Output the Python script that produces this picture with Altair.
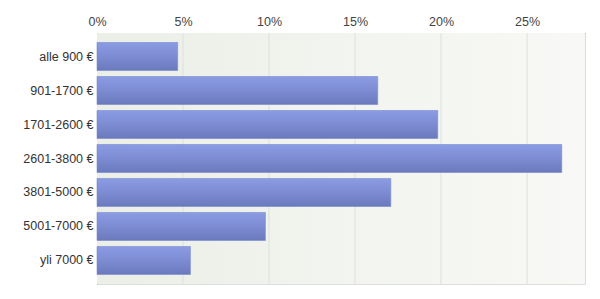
import altair as alt
import pandas as pd

categories = ["alle 900 €", "901-1700 €", "1701-2600 €", "2601-3800 €",
              "3801-5000 €", "5001-7000 €", "yli 7000 €"]
shares = [0.0469, 0.1632, 0.1981, 0.2702, 0.1708, 0.0979, 0.0543]
tick_values = [0, 0.05, 0.10, 0.15, 0.20, 0.25]
x_max = 0.2837

df = pd.DataFrame({"cat": categories, "share": shares})
bg = pd.DataFrame({"a": [0.0], "b": [x_max]})

xscale = alt.Scale(domain=[0, x_max], nice=False, zero=True)
yscale = alt.Scale(domain=categories, paddingInner=0.176, paddingOuter=0.28)

xaxis = alt.Axis(orient="top", values=tick_values, format=".0%",
                 title=None, grid=False, ticks=False, tickSize=0,
                 labelPadding=5, labelFontSize=12.5,
                 labelFont="Liberation Sans", labelColor="#444444",
                 domainColor="#999999", labelFlush=False)

background = alt.Chart(bg).mark_rect(
    color=alt.Gradient(
        gradient="linear", x1=0, y1=0, x2=1, y2=0,
        stops=[alt.GradientStop(color="#EBEFE7", offset=0),
               alt.GradientStop(color="#F2F4EF", offset=0.5),
               alt.GradientStop(color="#F8F9F6", offset=1)],
    )
).encode(
    x=alt.X("a:Q", scale=xscale, axis=xaxis),
    x2="b:Q",
    y=alt.value(0),
    y2=alt.value(251),
)

grid = alt.Chart(pd.DataFrame({"t": tick_values[1:]})).mark_rule(
    color="#DDE1DA", strokeWidth=1
).encode(
    x=alt.X("t:Q", scale=xscale, axis=xaxis),
    y=alt.value(0),
    y2=alt.value(251),
)

bars = alt.Chart(df).mark_bar(
    color=alt.Gradient(
        gradient="linear", x1=0, y1=0, x2=0, y2=1,
        stops=[alt.GradientStop(color="#8B9CE4", offset=0),
               alt.GradientStop(color="#7D8CD2", offset=0.5),
               alt.GradientStop(color="#6B79BC", offset=1)],
    ),
    stroke="#7888D0",
    strokeWidth=1,
    strokeOpacity=0.6,
).encode(
    x=alt.X("share:Q", scale=xscale, axis=xaxis),
    y=alt.Y("cat:N", scale=yscale, sort=categories,
            axis=alt.Axis(title=None, ticks=False, labelPadding=4,
                          labelFontSize=12.5, labelFont="Liberation Sans",
                          labelColor="#333333", domainColor="#999999")),
)

chart = alt.layer(background, grid, bars).properties(
    width=488, height=251,
    autosize=alt.AutoSizeParams(type="none"),
    padding={"left": 97, "top": 33, "right": 15, "bottom": 15},
).configure_view(
    stroke="#B8B8B8", strokeWidth=1
).configure(background="#FFFFFF")

chart.save("out.html", embed_options={"renderer": "svg", "actions": False})
